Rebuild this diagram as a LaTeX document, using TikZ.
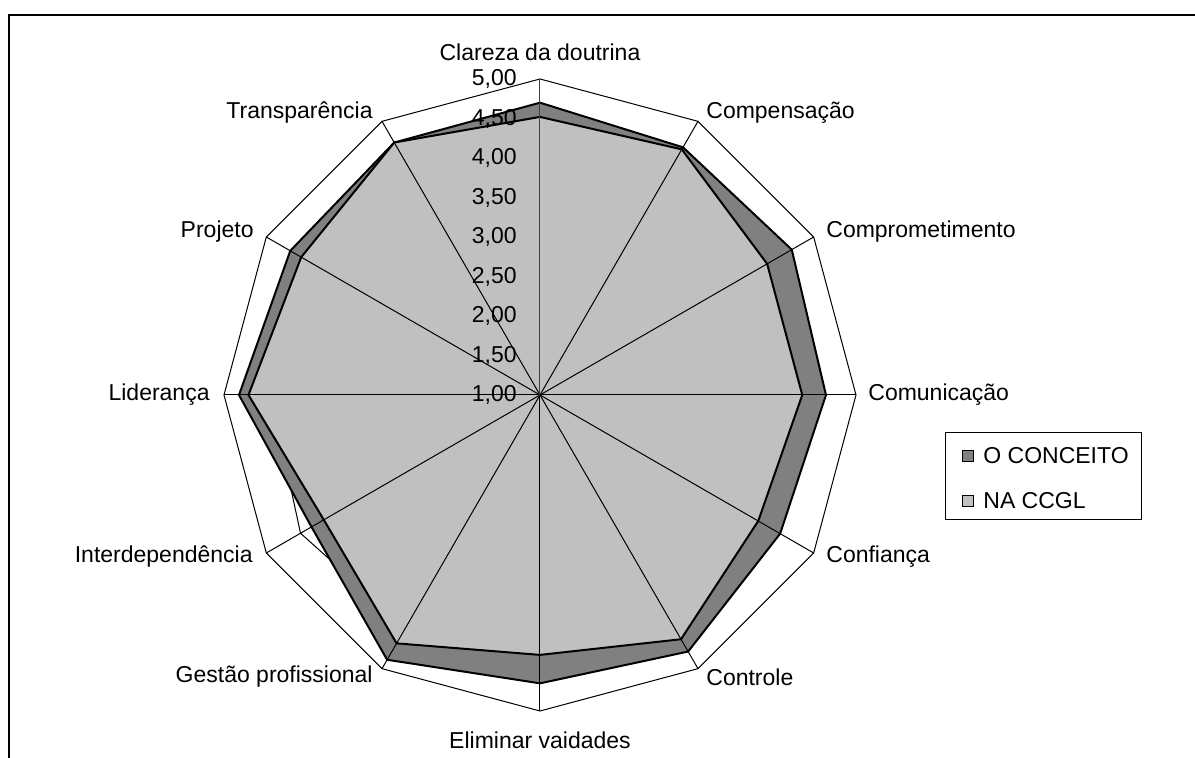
\documentclass[tikz,border=0pt]{standalone}
\usepackage{fontspec}
\setmainfont{Liberation Sans}
\definecolor{escuro}{RGB}{128,128,128}
\definecolor{claro}{RGB}{192,192,192}
\tikzset{
	serie/.style={draw=black, line width=1pt},
	eixo/.style={line width=0.5pt},
	rotulo/.style={inner sep=0pt, font=\fontsize{11.5}{13}\selectfont},
}

\begin{document}
\begin{tikzpicture}[x=0.5pt,y=0.5pt]
			\useasboundingbox (-540,-363) rectangle (655,395);
			\draw [line width=1pt](-531,-363)--(-531,380)--(655,380);
			\coordinate (c) at (0,0);
			\foreach \i in {0,...,11} \coordinate (o\i) at ({90-30*\i}:316);
			\draw [eixo](o0) \foreach \i in {1,...,11} {--(o\i)} --cycle;
			\draw [eixo](180:{3.41*79})--(210:{3.50*79})--(240:{3.40*79});
			\filldraw [serie,fill=escuro](90:{3.70*79}) \foreach \v [count=\i from 1] in {4.62,4.68,4.62,4.51,4.75,4.65,4.87,4.34,4.81,4.65,4.69} {--({90-30*\i}:{(\v-1)*79})} --cycle;
			\filldraw [serie,fill=claro](90:{3.52*79}) \foreach \v [count=\i from 1] in {4.59,4.32,4.32,4.19,4.57,4.29,4.63,4.16,4.69,4.49,4.69} {--({90-30*\i}:{(\v-1)*79})} --cycle;
			\foreach \i in {1,...,11} \draw [eixo](c)--(o\i);
			\draw [eixo,draw=gray!50!black](c)--(o0);
			\foreach \t [count=\k from 0] in {{1,00},{1,50},{2,00},{2,50},{3,00},{3,50},{4,00},{4,50},{5,00}}
				\node [rotulo,anchor=east] (v\k) at (-23,{\k*39.5}) {\t};
			\node [rotulo] (l0) at (0,343) {Clareza da doutrina};
			\node [rotulo,anchor=west] (l1) at (166,282) {Compensação};
			\node [rotulo,anchor=west] (l2) at (286,163) {Comprometimento};
			\node [rotulo,anchor=west] (l3) at (328,0) {Comunicação};
			\node [rotulo,anchor=west] (l4) at (286,-162) {Confiança};
			\node [rotulo,anchor=west] (l5) at (166,-282) {Controle};
			\node [rotulo] (l6) at (0,-345) {Eliminar vaidades};
			\node [rotulo,anchor=east] (l7) at (-167,-282) {Gestão profissional};
			\node [rotulo,anchor=east] (l8) at (-287,-162) {Interdependência};
			\node [rotulo,anchor=east] (l9) at (-330,0) {Liderança};
			\node [rotulo,anchor=east] (l10) at (-286,163) {Projeto};
			\node [rotulo,anchor=east] (l11) at (-167,282) {Transparência};
			\draw [eixo](405,-38) rectangle (601,-125);
			\filldraw [eixo,fill=escuro](422,-56) rectangle (433,-67);
			\node [rotulo,anchor=west] (conceito) at (443,-61) {O CONCEITO};
			\filldraw [eixo,fill=claro](422,-101) rectangle (433,-112);
			\node [rotulo,anchor=west] (ccgl) at (443,-106) {NA CCGL};
		\end{tikzpicture}
\end{document}
